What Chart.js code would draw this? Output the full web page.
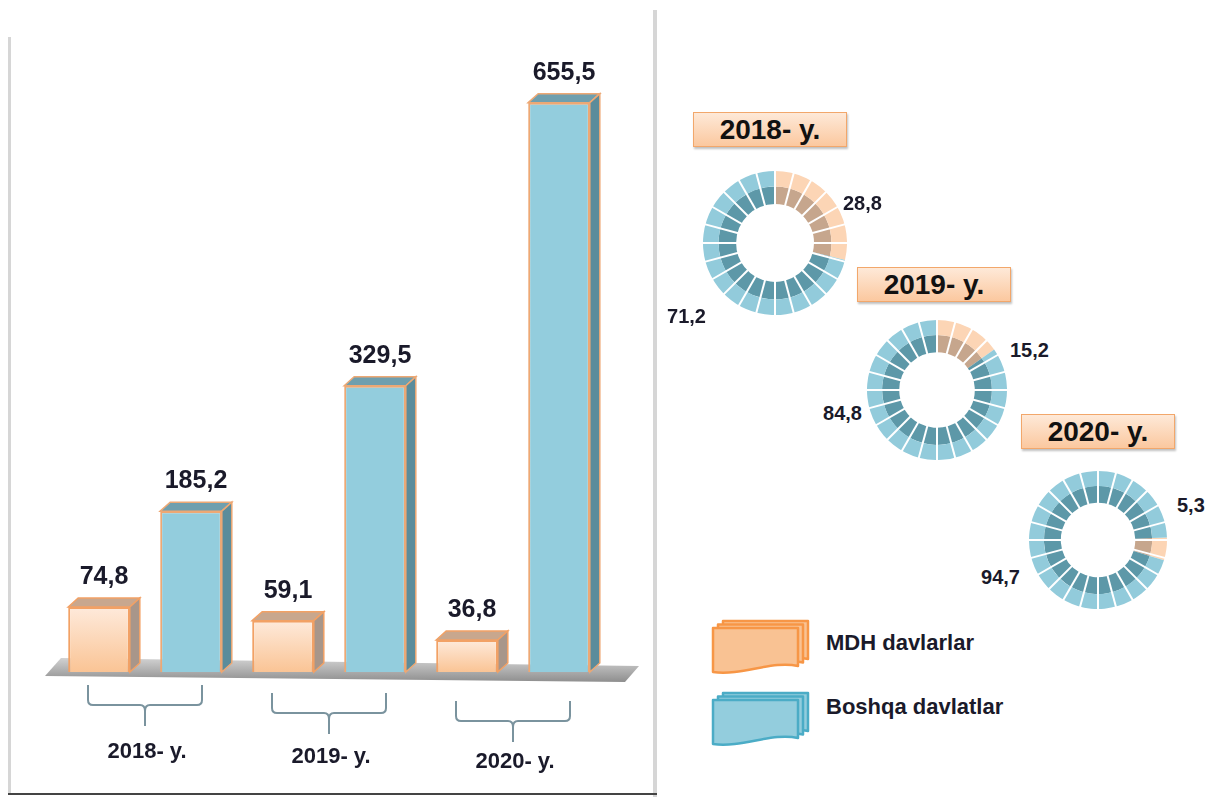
<!DOCTYPE html>
<html lang="uz">
<head>
<meta charset="UTF-8">
<title>MDH va boshqa davlatlar</title>
<script src="https://cdn.jsdelivr.net/npm/chart.js"></script>
<style>
  body { margin: 0; background: #fff; font-family: "Liberation Sans", Arial, sans-serif; }
  #page { position: relative; width: 1209px; height: 797px; overflow: hidden; }
  .abs { position: absolute; }
  .frame-l { left: 8px; top: 37px; width: 3px; height: 758px; background: #d6d6d6; }
  .frame-r { left: 653px; top: 10px; width: 4px; height: 787px; background: #d6d6d6; }
  .frame-b { left: 8px; top: 793px; width: 649px; height: 2px; background: #444; }
  .year-box {
    width: 154px; height: 35px; box-sizing: border-box;
    border: 1px solid #f2a76b;
    background: linear-gradient(#fee9d8, #fbc89f);
    box-shadow: 1px 2px 2px rgba(0, 0, 0, 0.25);
    font-weight: bold; font-size: 28px; line-height: 33px;
    text-align: center; color: #111;
  }
  .share { font-weight: bold; font-size: 20px; line-height: 20px; color: #1a1a2a; white-space: nowrap; }
  .legend-text { font-weight: bold; font-size: 22px; line-height: 22px; color: #1a1a2a; white-space: nowrap; }
</style>
</head>
<body>
<div id="page">
  <div class="abs frame-l"></div>
  <div class="abs frame-r"></div>
  <div class="abs frame-b"></div>

  <div class="abs" style="left:10px; top:10px; width:645px; height:785px;">
    <canvas id="bars"></canvas>
  </div>

  <div id="extras"></div>
</div>

<script>
// values
const years = ['2018- y.', '2019- y.', '2020- y.'];
const seriesNames = ['MDH davlarlar', 'Boshqa davlatlar'];
const mdhValues = [74.8, 59.1, 36.8];
const boshqaValues = [185.2, 329.5, 655.5];
const mdhShares = [28.8, 15.2, 5.3];
const boshqaShares = [71.2, 84.8, 94.7];

const fmt = v => v.toFixed(1).replace('.', ',');
const depth = { dx: 10, dy: -9 };

const faces = [
    { top: '#c8a78e', side: '#a8968a', border: '#f2a165', light: '#feeadb', dark: '#fac495' },
    { top: '#6f9fae', side: '#5b8c9b', border: '#eda874', light: '#93cddd', dark: '#93cddd' }
];

function faceFill(di) {
    const f = faces[di];
    return c => {
        const chart = c.chart;
        if (!chart.chartArea || !c.parsed) return f.light;
        const ys = chart.scales.y;
        const g = chart.ctx.createLinearGradient(0, ys.getPixelForValue(c.parsed.y), 0, ys.getPixelForValue(0));
        g.addColorStop(0, f.light);
        g.addColorStop(1, f.dark);
        return g;
    };
}

// floor, 3d faces, value labels, brackets under each year
const bar3d = {
    id: 'bar3d',
    beforeDatasetsDraw(chart) {
        const { ctx, chartArea: a, scales: { y } } = chart;
        const base = y.getPixelForValue(0);
        ctx.save();
        ctx.beginPath();
        ctx.moveTo(a.left - 8, base + 4);
        ctx.lineTo(a.right + 20, base + 10);
        ctx.lineTo(a.right + 34, base - 6);
        ctx.lineTo(a.left + 8, base - 14);
        ctx.closePath();
        const g = ctx.createLinearGradient(0, base - 14, 0, base + 10);
        g.addColorStop(0, '#d2d2d2');
        g.addColorStop(1, '#8e8e8e');
        ctx.fillStyle = g;
        ctx.fill();
        ctx.restore();
    },
    afterDatasetsDraw(chart) {
        const { ctx } = chart;
        const { dx, dy } = depth;
        ctx.save();
        chart.data.datasets.forEach((ds, di) => {
            const f = faces[di];
            chart.getDatasetMeta(di).data.forEach((bar, i) => {
                const { x, y, width, base } = bar.getProps(['x', 'y', 'width', 'base'], true);
                const l = x - width / 2, r = x + width / 2;
                ctx.lineWidth = 1.5;
                ctx.strokeStyle = f.border;
                // top
                ctx.beginPath();
                ctx.moveTo(l, y);
                ctx.lineTo(l + dx, y + dy);
                ctx.lineTo(r + dx, y + dy);
                ctx.lineTo(r, y);
                ctx.closePath();
                ctx.fillStyle = f.top;
                ctx.fill();
                ctx.stroke();
                // side
                ctx.beginPath();
                ctx.moveTo(r, y);
                ctx.lineTo(r + dx, y + dy);
                ctx.lineTo(r + dx, base + dy);
                ctx.lineTo(r, base);
                ctx.closePath();
                ctx.fillStyle = f.side;
                ctx.fill();
                ctx.stroke();
                // label
                ctx.fillStyle = '#1a1a2a';
                ctx.font = 'bold 25px "Liberation Sans", Arial, sans-serif';
                ctx.textAlign = 'center';
                ctx.textBaseline = 'middle';
                ctx.fillText(fmt(ds.data[i]), x + dx / 2, y - 30);
            });
        });
        ctx.restore();
    },
    afterDraw(chart) {
        const { ctx, scales: { x, y } } = chart;
        const base = y.getPixelForValue(0);
        ctx.save();
        ctx.strokeStyle = '#7a939e';
        ctx.lineWidth = 2;
        chart.data.labels.forEach((lab, i) => {
            const cx = x.getPixelForValue(i);
            const top = base + 13 + 8 * i;
            const h = 57, mid = top + 20;
            ctx.beginPath();
            ctx.moveTo(cx - h, top);
            ctx.lineTo(cx - h, mid - 5);
            ctx.quadraticCurveTo(cx - h, mid, cx - h + 5, mid);
            ctx.lineTo(cx - 5, mid);
            ctx.quadraticCurveTo(cx, mid, cx, mid + 6);
            ctx.lineTo(cx, mid + 21);
            ctx.moveTo(cx, mid + 6);
            ctx.quadraticCurveTo(cx, mid, cx + 5, mid);
            ctx.lineTo(cx + h - 5, mid);
            ctx.quadraticCurveTo(cx + h, mid, cx + h, mid - 5);
            ctx.lineTo(cx + h, top);
            ctx.stroke();
            ctx.fillStyle = '#1a1a2a';
            ctx.font = 'bold 22px "Liberation Sans", Arial, sans-serif';
            ctx.textAlign = 'center';
            ctx.textBaseline = 'middle';
            ctx.fillText(lab, cx + 2, base + 80 + 5 * i);
        });
        ctx.restore();
    }
};

new Chart(document.getElementById('bars'), {
    type: 'bar',
    data: {
        labels: years,
        datasets: [
            {
                label: seriesNames[0], data: mdhValues,
                backgroundColor: faceFill(0), borderColor: faces[0].border, borderWidth: 2,
                categoryPercentage: 1.0, barPercentage: 0.67
            },
            {
                label: seriesNames[1], data: boshqaValues,
                backgroundColor: faceFill(1), borderColor: faces[1].border, borderWidth: 2,
                categoryPercentage: 1.0, barPercentage: 0.67
            }
        ]
    },
    options: {
        responsive: true,
        maintainAspectRatio: false,
        animation: false,
        events: [],
        layout: { padding: { left: 43, right: 50, top: 54, bottom: 123 } },
        scales: {
            x: { display: false },
            y: { display: false, min: 0, max: 700 }
        },
        plugins: { legend: { display: false }, tooltip: { enabled: false }, colors: { enabled: false } }
    },
    plugins: [bar3d]
});

// doughnuts
const ringColors = {
    outer: ['#fcd5b5', '#92cbdb'],
    inner: ['#c6a68d', '#5d98a8']
};
const donutBoxes = [
    { cx: 775, cy: 243, r: 72, rot: 0, box: [693, 112], right: [843, 203], left: [706, 316] },
    { cx: 937, cy: 390, r: 70, rot: 0, box: [857, 267], right: [1010, 350], left: [862, 413] },
    { cx: 1098, cy: 540, r: 69, rot: 88, box: [1021, 414], right: [1177, 505], left: [1020, 577] }
];

const spokes = {
    id: 'spokes',
    afterDatasetsDraw(chart) {
        const { ctx } = chart;
        const outer = chart.getDatasetMeta(0).data[0];
        const inner = chart.getDatasetMeta(1).data[0];
        const { x, y } = outer;
        const r1 = inner.innerRadius, r2 = outer.outerRadius;
        ctx.save();
        ctx.strokeStyle = '#ffffff';
        ctx.lineWidth = 2;
        for (let k = 0; k < 24; k++) {
            const a = -Math.PI / 2 + k * Math.PI / 12;
            ctx.beginPath();
            ctx.moveTo(x + Math.cos(a) * (r1 - 1), y + Math.sin(a) * (r1 - 1));
            ctx.lineTo(x + Math.cos(a) * (r2 + 1), y + Math.sin(a) * (r2 + 1));
            ctx.stroke();
        }
        ctx.restore();
    }
};

const extras = document.getElementById('extras');
donutBoxes.forEach((d, i) => {
    const wrap = document.createElement('div');
    wrap.className = 'abs';
    wrap.style.cssText = `left:${d.cx - d.r}px; top:${d.cy - d.r}px; width:${2 * d.r}px; height:${2 * d.r}px;`;
    const cv = document.createElement('canvas');
    wrap.appendChild(cv);
    extras.appendChild(wrap);

    const box = document.createElement('div');
    box.className = 'abs year-box';
    box.style.left = d.box[0] + 'px';
    box.style.top = d.box[1] + 'px';
    box.textContent = years[i];
    extras.appendChild(box);

    const rl = document.createElement('div');
    rl.className = 'abs share';
    rl.style.cssText = `left:${d.right[0]}px; top:${d.right[1]}px; transform:translateY(-50%);`;
    rl.textContent = fmt(mdhShares[i]);
    extras.appendChild(rl);

    const ll = document.createElement('div');
    ll.className = 'abs share';
    ll.style.cssText = `left:${d.left[0]}px; top:${d.left[1]}px; transform:translate(-100%, -50%);`;
    ll.textContent = fmt(boshqaShares[i]);
    extras.appendChild(ll);

    new Chart(cv, {
        type: 'doughnut',
        data: {
            labels: seriesNames,
            datasets: [
                { data: [mdhShares[i], boshqaShares[i]], backgroundColor: ringColors.outer, borderWidth: 0, hoverOffset: 0, weight: 15 },
                { data: [mdhShares[i], boshqaShares[i]], backgroundColor: ringColors.inner, borderWidth: 0, hoverOffset: 0, weight: 17 }
            ]
        },
        options: {
            responsive: true,
            maintainAspectRatio: false,
            animation: false,
            events: [],
            cutout: '54%',
            rotation: d.rot,
            plugins: { legend: { display: false }, tooltip: { enabled: false } }
        },
        plugins: [spokes]
    });
});

// legend with stacked-sheet icons
const legendItems = [
    { top: 618, fill: '#f9c293', stroke: '#f79646', textY: 643 },
    { top: 690, fill: '#93cddd', stroke: '#4bacc6', textY: 707 }
];
function sheet(x, y, w, h) {
    return `M${x},${y} L${x + w},${y} L${x + w},${y + h - 6} C${x + w * 0.7},${y + h - 12} ${x + w * 0.35},${y + h + 4} ${x},${y + h} Z`;
}
legendItems.forEach((it, i) => {
    let paths = '';
    [[10, 3], [5, 6.5], [0, 10]].forEach(([ox, oy]) => {
        paths += `<path d="${sheet(2 + ox, oy, 85, 44)}" fill="${it.fill}" stroke="${it.stroke}" stroke-width="2.5" stroke-linejoin="round"/>`;
    });
    const holder = document.createElement('div');
    holder.className = 'abs';
    holder.style.cssText = `left:711px; top:${it.top}px;`;
    holder.innerHTML = `<svg width="102" height="62">${paths}</svg>`;
    extras.appendChild(holder);

    const t = document.createElement('div');
    t.className = 'abs legend-text';
    t.style.cssText = `left:826px; top:${it.textY}px; transform:translateY(-50%);`;
    t.textContent = seriesNames[i];
    extras.appendChild(t);
});
</script>
</body>
</html>
